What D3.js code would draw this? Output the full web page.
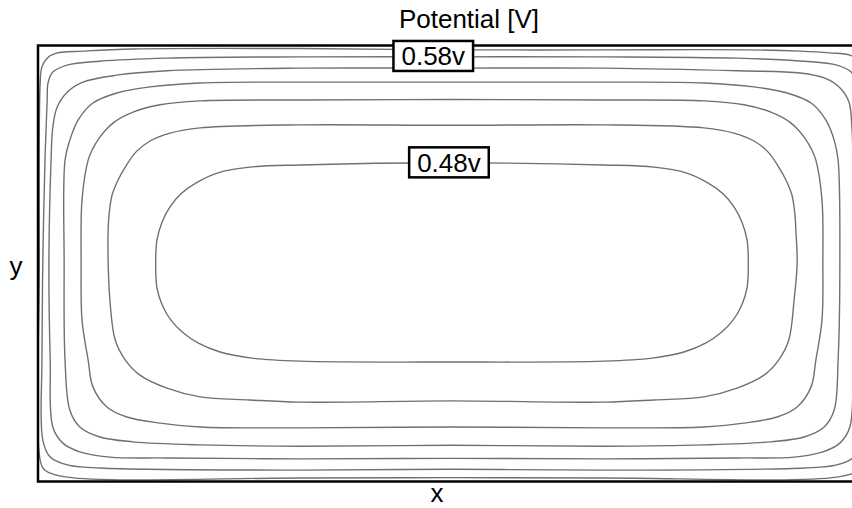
<!DOCTYPE html>
<html>
<head>
<meta charset="utf-8">
<script src="https://cdn.jsdelivr.net/npm/d3@7.9.0/dist/d3.min.js"></script>
<style>
  body { margin: 0; background: #fff; }
  svg { display: block; font-family: "Liberation Sans", Arial, sans-serif; }
</style>
</head>
<body>
<svg id="chart" width="852" height="508"></svg>
<script>
// potential levels, outermost first
const levels = [0.60, 0.58, 0.56, 0.54, 0.52, 0.50, 0.48];

// contour rings, in mm (x 0..190, y 0..100 from the bottom)
const c060 = [[0.3,50],[0.5,91.4],[0.9,95.1],[2.1,97.1],[4.4,98.3],[10.3,98.7],[21.8,99.2],[60.1,99.3],[95,99.0],[129,99.0],[163.4,99.0],[174.9,98.7],[181.7,98.3],[186.3,97.8],[188.6,96.2],[189.5,92.1],[189.7,50],[189.5,4.9],[188.4,2.6],[183.3,1.0],[129.9,0.8],[95,0.9],[60.1,0.8],[6.7,1.0],[1.6,2.6],[0.5,4.9]];
const c058 = [[1.1,50.1],[1.6,73.7],[2.1,87.5],[2.3,91.4],[3.4,93.9],[6.7,95.5],[14.2,96.4],[29.6,97.1],[60.1,97.4],[95,97.4],[129.9,97.4],[160.4,97.1],[175.8,96.4],[183.3,95.5],[186.6,93.9],[187.7,91.4],[187.9,87.5],[188.4,73.7],[188.8,50.1],[189.1,27.9],[188.8,9.5],[187.2,5.6],[183.3,3.8],[175.8,3.1],[129.9,2.6],[95,2.8],[60.1,2.6],[14.2,3.1],[6.7,3.8],[2.8,5.6],[1.1,9.5],[0.9,27.9]];
const c056 = [[2.5,50.1],[3.0,73.7],[3.4,81.3],[4.4,85.9],[6.7,89.3],[10.3,91.6],[18.1,93.2],[29.6,94.2],[60.1,94.8],[95,94.8],[129.9,94.8],[160.4,94.2],[174.9,93.7],[180.6,92.5],[184.0,90.3],[186.1,87.0],[186.8,80.6],[187.0,73.7],[187.2,50.1],[187.0,27.9],[186.3,12.5],[184.0,8.8],[180.1,6.8],[173.5,5.6],[160.4,5.4],[129.9,5.2],[95,5.3],[60.1,5.2],[29.6,5.4],[16.5,5.6],[9.6,6.8],[5.7,8.8],[3.4,12.5],[2.8,27.9]];
const c054 = [[6.0,50.1],[6.2,73.7],[7.3,78.3],[9.2,82.9],[12.6,86.8],[18.1,89.1],[25.7,90.5],[37.2,91.4],[60.1,91.6],[95,91.6],[129.9,91.6],[152.8,91.4],[164.3,90.5],[171.9,89.1],[177.4,86.8],[180.8,82.9],[182.7,78.3],[183.6,73.7],[184.0,50.1],[183.6,27.9],[182.7,16.4],[180.4,12.5],[175.8,10.2],[168.2,9.1],[152.8,8.4],[129.9,8.1],[95,8.3],[60.1,8.1],[37.2,8.4],[21.8,9.1],[14.2,10.2],[9.6,12.5],[7.3,16.4],[6.2,27.9]];
const c052 = [[9.9,50.1],[10.1,64.6],[11.5,73.7],[12.4,76.0],[14.2,79.0],[17.2,82.2],[21.8,84.7],[28.0,86.4],[37.2,87.3],[60.1,87.5],[95,87.6],[129.9,87.5],[152.8,87.3],[162.0,86.4],[168.2,84.7],[172.8,82.2],[175.8,79.0],[177.6,76.0],[178.5,73.7],[179.9,64.6],[180.1,50.1],[179.9,37.0],[178.5,27.9],[177.4,21.7],[174.2,17.1],[169.6,14.8],[162.0,13.4],[152.8,12.5],[129.9,12.3],[95,12.5],[60.1,12.3],[37.2,12.5],[28.0,13.4],[20.4,14.8],[15.8,17.1],[12.6,21.7],[11.5,27.9],[10.1,37.0]];
const c050 = [[16.1,50.1],[16.1,57.7],[16.3,61.1],[17.0,65.7],[18.4,69.2],[20.2,72.4],[22.5,75.6],[25.7,78.1],[30.3,79.9],[37.2,81.1],[60.1,81.8],[95,81.7],[129.9,81.8],[152.8,81.1],[159.7,79.9],[164.3,78.1],[167.5,75.6],[169.8,72.4],[171.6,69.2],[173.0,65.7],[173.7,61.1],[173.9,57.7],[174.2,50.1],[173.5,41.6],[172.3,32.5],[170.0,27.9],[166.6,24.4],[160.4,21.4],[152.8,19.4],[141.4,18.7],[129.9,18.2],[95,18.5],[60.1,18.2],[48.6,18.7],[37.2,19.4],[29.6,21.4],[23.4,24.4],[20.0,27.9],[17.7,32.5],[16.5,41.6]];
const c048 = [[27.0,50.1],[27.3,55.4],[28.5,59.6],[30.3,63.0],[32.8,66.0],[36.3,68.5],[41.3,70.8],[48.6,72.1],[60.1,72.6],[95,73.1],[129.9,72.6],[141.4,72.1],[148.7,70.8],[153.7,68.5],[157.2,66.0],[159.7,63.0],[161.5,59.6],[162.7,55.4],[163.0,50.1],[162.7,44.4],[161.5,40.5],[159.5,37.0],[156.7,34.1],[153.3,31.8],[148.2,29.7],[140.9,28.3],[129.9,27.6],[95,27.4],[60.1,27.6],[49.1,28.3],[41.8,29.7],[36.7,31.8],[33.3,34.1],[30.5,37.0],[28.5,40.5],[27.3,44.4]];

const rings = [c060, c058, c056, c054, c052, c050, c048];

// inline labels: level and where it sits (mm)
const labelLevels = [0.58, 0.48];
const labelX = [90.7, 94.3];
const labelY = [97.6, 73.2];

const svg = d3.select('#chart');
const x = d3.scaleLinear().domain([0, 190]).range([38, 866]);
const y = d3.scaleLinear().domain([0, 100]).range([481.5, 45.5]);

svg.append('clipPath').attr('id', 'plotclip')
  .append('rect')
  .attr('x', x(0)).attr('y', y(100))
  .attr('width', x(190) - x(0)).attr('height', y(0) - y(100));

const line = d3.line()
  .x((d) => x(d[0]))
  .y((d) => y(d[1]))
  .curve(d3.curveCatmullRomClosed.alpha(0.5));

svg.append('g')
  .attr('clip-path', 'url(#plotclip)')
  .selectAll('path')
  .data(rings)
  .join('path')
  .attr('d', line)
  .attr('fill', 'none')
  .attr('stroke', '#707070')
  .attr('stroke-width', 1.4);

// frame
svg.append('rect')
  .attr('x', x(0)).attr('y', y(100))
  .attr('width', x(190) - x(0)).attr('height', y(0) - y(100))
  .attr('fill', 'none')
  .attr('stroke', '#000')
  .attr('stroke-width', 2.5);

// contour labels
labelLevels.forEach((lv, i) => {
  let g = svg.append('g').attr('transform', `translate(${x(labelX[i])},${y(labelY[i])})`);
  let t = g.append('text')
    .attr('text-anchor', 'middle')
    .attr('dy', '0.36em')
    .attr('font-size', 26)
    .text(d3.format('.2f')(lv) + 'v');
  let bb = t.node().getBBox();
  g.insert('rect', 'text')
    .attr('x', bb.x - 8).attr('y', -15)
    .attr('width', bb.width + 16).attr('height', 30)
    .attr('fill', '#fff')
    .attr('stroke', '#000')
    .attr('stroke-width', 2.5);
});

svg.append('text')
  .attr('x', 469).attr('y', 28)
  .attr('text-anchor', 'middle')
  .attr('font-size', 26)
  .text('Potential [V]');

svg.append('text')
  .attr('x', 16).attr('y', 275)
  .attr('text-anchor', 'middle')
  .attr('font-size', 26)
  .text('y');

svg.append('text')
  .attr('x', 437).attr('y', 502)
  .attr('text-anchor', 'middle')
  .attr('font-size', 26)
  .text('x');
</script>
</body>
</html>
